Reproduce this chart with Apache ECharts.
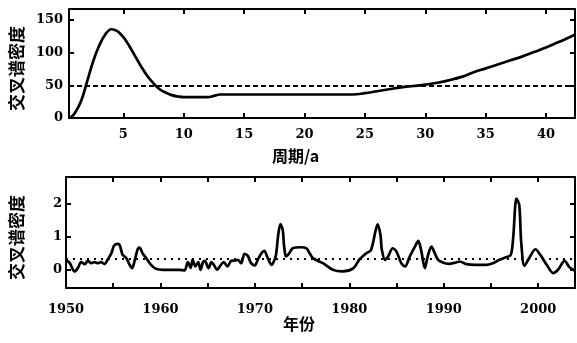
<!DOCTYPE html>
<html><head><meta charset="utf-8">
<script src="https://cdn.jsdelivr.net/npm/echarts@6/dist/echarts.min.js"></script>
<style>html,body{margin:0;padding:0;background:#fff}#c{width:577px;height:343px}</style>
</head><body><div id="c"></div>
<script>
// Top chart: cross spectral density vs period (a)
const periods = [0.6,1.0,1.5,2.0,2.5,3.0,3.5,4.0,4.5,5.0,5.5,6.0,6.5,7.0,7.5,8.0,8.5,9.0,9.5,10,11,12,12.5,13,14,16,18,20,22,24,25,26,27,28,29,30,31,32,33,34,35,36,37,38,39,40,41,42,42.4];
const periodDensity = [0,8,26,56,87,111,128,136,133,124,110,94,78,64,53,44,39,35,33,32,32,32,34,36,36,36,36,36,36,36,38,41,44,47,49,51,54,58,63,70,76,82,88,94,101,108,116,124,128];
const topThreshold = 50;
const topXTicks = [5,10,15,20,25,30,35,40];
const topYTicks = [0,50,100,150];

// Bottom chart: cross spectral density vs year
const years = [1950.0,1950.4,1950.9,1951.25,1951.6,1952.0,1952.3,1952.7,1953.0,1953.4,1953.7,1954.1,1954.4,1954.8,1955.1,1955.5,1955.7,1956.0,1956.4,1956.7,1957.0,1957.25,1957.6,1957.8,1958.1,1958.5,1959.0,1959.6,1960.25,1962.0,1962.55,1962.9,1963.2,1963.4,1963.7,1964.0,1964.25,1964.5,1964.7,1965.1,1965.4,1965.65,1966.0,1966.4,1966.7,1967.1,1967.5,1967.85,1968.2,1968.55,1968.9,1969.25,1969.6,1970.0,1970.3,1970.7,1971.0,1971.3,1971.75,1972.2,1972.45,1972.7,1972.95,1973.1,1973.3,1973.65,1974.0,1974.9,1975.45,1975.8,1976.15,1977.2,1978.25,1979.3,1980.4,1981.1,1981.8,1982.3,1982.8,1983.0,1983.3,1983.45,1983.8,1984.1,1984.6,1985.0,1985.5,1985.9,1986.4,1986.95,1987.3,1987.6,1988.0,1988.3,1988.7,1989.05,1989.4,1989.9,1990.5,1991.3,1991.7,1992.4,1993.4,1994.5,1995.2,1995.9,1996.6,1997.1,1997.35,1997.7,1998.0,1998.2,1998.55,1999.1,1999.7,2000.3,2000.9,2001.6,2002.1,2002.8,2003.3,2003.9];
const yearDensity = [0.30,0.20,-0.05,0.05,0.23,0.17,0.27,0.20,0.23,0.20,0.23,0.17,0.30,0.50,0.73,0.78,0.73,0.45,0.35,0.17,0.05,0.25,0.63,0.67,0.50,0.35,0.15,0.02,0.00,0.00,-0.02,0.23,0.05,0.30,0.10,0.23,0.00,0.23,0.27,0.05,0.23,0.15,0.00,0.15,0.23,0.10,0.27,0.28,0.30,0.20,0.48,0.42,0.20,0.13,0.30,0.50,0.57,0.40,0.15,0.40,1.00,1.38,1.20,0.70,0.40,0.50,0.65,0.68,0.65,0.50,0.35,0.20,0.00,-0.05,0.04,0.32,0.50,0.60,1.20,1.37,1.05,0.60,0.30,0.40,0.65,0.55,0.20,0.10,0.40,0.70,0.87,0.60,0.05,0.40,0.70,0.50,0.30,0.22,0.18,0.22,0.25,0.17,0.15,0.15,0.20,0.30,0.38,0.45,0.95,2.15,1.95,0.85,0.12,0.38,0.62,0.42,0.15,-0.10,0.00,0.27,0.08,-0.03];
const bottomThreshold = 0.32;
const bottomXTicks = [1950,1955,1960,1965,1970,1975,1980,1985,1990,1995,2000];
const bottomXLabels = [1950,1960,1970,1980,1990,2000];
const bottomYTicks = [0,1,2];

const yName = '交叉谱密度';
const topXName = '周期/a';
const bottomXName = '年份';

const numFont = {fontFamily:'DejaVu Serif', fontWeight:'bold', fontSize:13, color:'#000'};
const cjkFont = {fontFamily:'Noto Sans CJK SC', fontWeight:'bold', fontSize:17, color:'#000', padding:[0,10,0,0]};
const axLine = {show:true, onZero:false, lineStyle:{color:'#000', width:2}};
function tick(vals){ return {show:true, inside:true, length:5, customValues:vals, lineStyle:{color:'#000', width:2}}; }
const plain = v => String(v);

const chart = echarts.init(document.getElementById('c'), null, {renderer:'canvas'});
chart.setOption({
  animation:false,
  backgroundColor:'#fff',
  grid:[
    {left:66, right:2, top:9, height:109},
    {left:66, right:2, top:177, height:111}
  ],
  xAxis:[
    {type:'value', gridIndex:0, min:0.5, max:42.4, position:'bottom', axisLine:axLine, axisTick:tick(topXTicks),
     axisLabel:Object.assign({customValues:topXTicks, margin:10, formatter:plain}, numFont), splitLine:{show:false}},
    {type:'value', gridIndex:0, min:0.5, max:42.4, position:'top', axisLine:axLine, axisTick:tick(topXTicks),
     axisLabel:{show:false}, splitLine:{show:false}},
    {type:'value', gridIndex:1, min:1950, max:2003.9, position:'bottom', axisLine:axLine, axisTick:tick(bottomXTicks),
     axisLabel:Object.assign({customValues:bottomXLabels, margin:15, formatter:plain}, numFont), splitLine:{show:false}},
    {type:'value', gridIndex:1, min:1950, max:2003.9, position:'top', axisLine:axLine, axisTick:tick(bottomXTicks),
     axisLabel:{show:false}, splitLine:{show:false}}
  ],
  yAxis:[
    {type:'value', gridIndex:0, min:0, max:167, position:'left', axisLine:axLine, axisTick:tick(topYTicks),
     axisLabel:Object.assign({customValues:topYTicks, margin:6, formatter:plain}, numFont), splitLine:{show:false},
     name:yName, nameLocation:'middle', nameRotate:90, nameGap:41, nameTextStyle:cjkFont},
    {type:'value', gridIndex:0, min:0, max:167, position:'right', axisLine:axLine, axisTick:tick(topYTicks),
     axisLabel:{show:false}, splitLine:{show:false}},
    {type:'value', gridIndex:1, min:-0.55, max:2.8, position:'left', axisLine:axLine, axisTick:tick(bottomYTicks),
     axisLabel:Object.assign({customValues:bottomYTicks, margin:4, formatter:plain}, numFont), splitLine:{show:false},
     name:yName, nameLocation:'middle', nameRotate:90, nameGap:41, nameTextStyle:cjkFont},
    {type:'value', gridIndex:1, min:-0.55, max:2.8, position:'right', axisLine:axLine, axisTick:tick(bottomYTicks),
     axisLabel:{show:false}, splitLine:{show:false}}
  ],
  graphic:[
    {type:'text', left:272, top:148, style:{text:topXName, fill:'#000', font:'bold 16px "Noto Sans CJK SC"'}},
    {type:'text', left:283, top:316, style:{text:bottomXName, fill:'#000', font:'bold 16px "Noto Sans CJK SC"'}}
  ],
  series:[
    {type:'line', xAxisIndex:0, yAxisIndex:0, data:periods.map((p,i)=>[p, periodDensity[i]]),
     showSymbol:false, smooth:0.4, lineStyle:{color:'#000', width:2.7}, clip:true,
     markLine:{silent:true, symbol:'none', label:{show:false}, data:[{yAxis:topThreshold}],
       lineStyle:{color:'#000', width:2, type:[5,3]}}},
    {type:'line', xAxisIndex:2, yAxisIndex:2, data:years.map((y,i)=>[y, yearDensity[i]]),
     showSymbol:false, smooth:0.3, lineStyle:{color:'#000', width:2.7}, clip:true,
     markLine:{silent:true, symbol:'none', label:{show:false}, data:[{yAxis:bottomThreshold}],
       lineStyle:{color:'#000', width:2, type:[2,5]}}}
  ]
});
</script>
</body></html>
